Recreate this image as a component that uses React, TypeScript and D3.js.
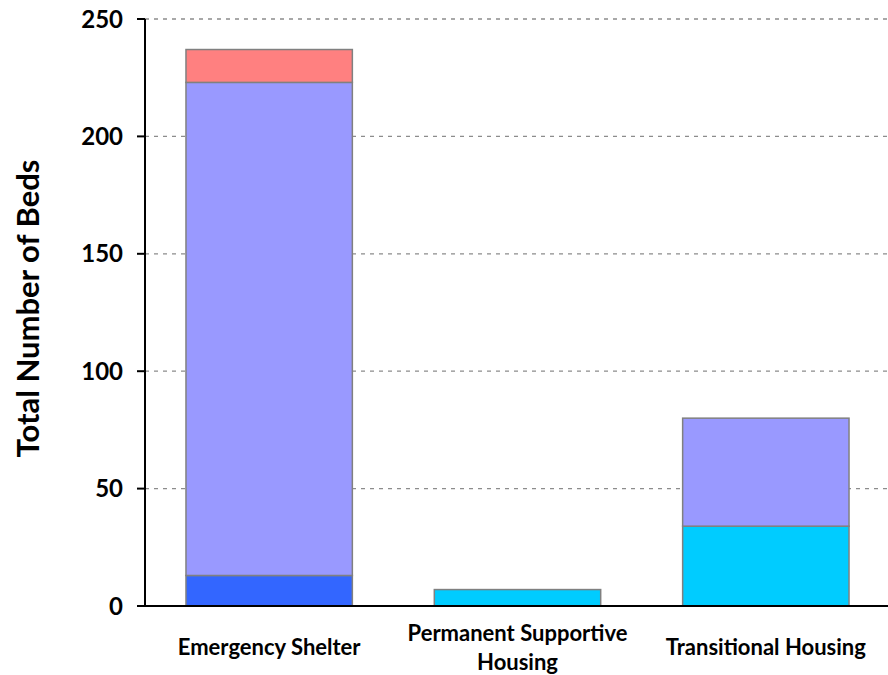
import React, { useEffect, useRef } from "react";
import * as d3 from "d3";

const categories = ["Emergency Shelter", "Permanent Supportive Housing", "Transitional Housing"];
const categoryLines = [["Emergency Shelter"], ["Permanent Supportive", "Housing"], ["Transitional Housing"]];
const seriesNames = ["Dark Blue", "Cyan", "Purple", "Red"];
const darkBlue = [13, 0, 0];
const cyan = [0, 7, 34];
const purple = [210, 0, 46];
const red = [14, 0, 0];
const yTicks = [0, 50, 100, 150, 200, 250];
const colors = ["#3366ff", "#00ccff", "#9999ff", "#ff8080"];

const App: React.FC = () => {
  const ref = useRef<SVGSVGElement>(null);
  const width = 888;
  const height = 675;
  const margin = { top: 19, right: -2, bottom: 69, left: 145 };

  useEffect(() => {
    if (!ref.current) return;
    const svg = d3.select(ref.current);
    svg.selectAll("*").remove();

    const rows = categories.map((c, i) => ({
      cat: c,
      "Dark Blue": darkBlue[i],
      Cyan: cyan[i],
      Purple: purple[i],
      Red: red[i],
    }));

    const x = d3
      .scaleBand()
      .domain(categories)
      .range([margin.left, width - margin.right])
      .paddingInner(0.33)
      .paddingOuter(0.165);

    const y = d3
      .scaleLinear()
      .domain([0, 250])
      .range([height - margin.bottom, margin.top]);

    const font = "Lato, 'Open Sans', sans-serif";

    // gridlines
    svg
      .append("g")
      .selectAll("line")
      .data(yTicks.filter((t) => t > 0))
      .join("line")
      .attr("x1", margin.left)
      .attr("x2", width)
      .attr("y1", (d) => y(d))
      .attr("y2", (d) => y(d))
      .attr("stroke", "#8c8c8c")
      .attr("stroke-width", 1.3)
      .attr("stroke-dasharray", "4,5");

    const stack = d3.stack<any>().keys(seriesNames)(rows as any);

    svg
      .append("g")
      .selectAll("g")
      .data(stack)
      .join("g")
      .attr("fill", (_, i) => colors[i])
      .selectAll("rect")
      .data((d) => d.filter((s) => s[1] - s[0] > 0))
      .join("rect")
      .attr("x", (d: any) => x(d.data.cat)!)
      .attr("width", x.bandwidth())
      .attr("y", (d) => y(d[1]))
      .attr("height", (d) => y(d[0]) - y(d[1]))
      .attr("stroke", "#808080")
      .attr("stroke-width", 1.5);

    // y axis
    const yAxis = svg.append("g").attr("transform", `translate(${margin.left},0)`);
    yAxis
      .append("line")
      .attr("x1", 0)
      .attr("x2", 0)
      .attr("y1", y(250))
      .attr("y2", y(0))
      .attr("stroke", "#000")
      .attr("stroke-width", 2);
    yAxis
      .selectAll("line.tick")
      .data(yTicks)
      .join("line")
      .attr("class", "tick")
      .attr("x1", -8)
      .attr("x2", 0)
      .attr("y1", (d) => y(d))
      .attr("y2", (d) => y(d))
      .attr("stroke", "#000")
      .attr("stroke-width", 2);
    yAxis
      .selectAll("text")
      .data(yTicks)
      .join("text")
      .attr("x", -22)
      .attr("y", (d) => y(d))
      .attr("dy", "0.36em")
      .attr("text-anchor", "end")
      .attr("font-family", font)
      .attr("font-weight", "bold")
      .attr("font-size", 24)
      .text((d) => d);

    // x axis
    svg
      .append("line")
      .attr("x1", margin.left - 1)
      .attr("x2", width)
      .attr("y1", y(0))
      .attr("y2", y(0))
      .attr("stroke", "#000")
      .attr("stroke-width", 2);

    svg
      .append("g")
      .selectAll("text")
      .data(categories)
      .join("text")
      .attr("text-anchor", "middle")
      .attr("font-family", font)
      .attr("font-weight", "bold")
      .attr("font-size", 22)
      .attr("transform", (d, i) => {
        const n = categoryLines[i].length;
        const cy = n === 1 ? 647 : 633;
        return `translate(${x(d)! + x.bandwidth() / 2},${cy})`;
      })
      .selectAll("tspan")
      .data((_, i) => categoryLines[i])
      .join("tspan")
      .attr("x", 0)
      .attr("dy", (_, j) => (j === 0 ? "0.36em" : "29"))
      .text((t) => t);

    svg
      .append("text")
      .attr("transform", `translate(28,${(y(0) + y(250)) / 2 - 4}) rotate(-90)`)
      .attr("text-anchor", "middle")
      .attr("dy", "0.36em")
      .attr("font-family", font)
      .attr("font-weight", "bold")
      .attr("font-size", 31)
      .text("Total Number of Beds");
  }, []);

  return (
    <svg
      ref={ref}
      width={width}
      height={height}
      viewBox={`0 0 ${width} ${height}`}
      style={{ position: "absolute", left: 0, top: 0, background: "#fff" }}
    ></svg>
  );
};

export default App;
